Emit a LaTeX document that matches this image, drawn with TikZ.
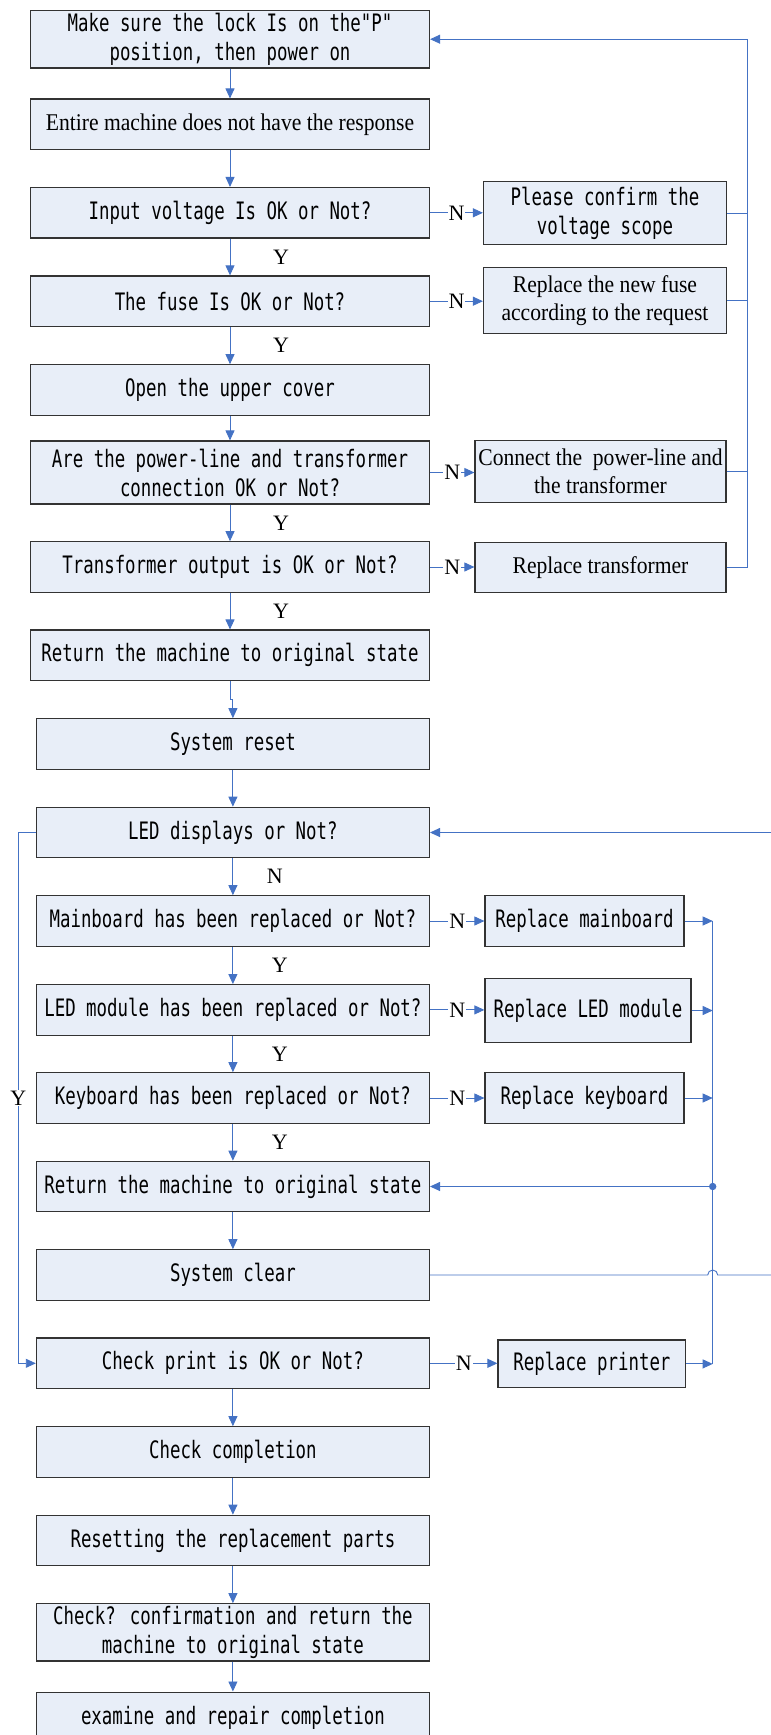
\documentclass[tikz,border=0pt]{standalone}
\usepackage{fontspec}
\usetikzlibrary{arrows.meta}
\newfontfamily\boxfont[FakeStretch=0.725]{DejaVu Sans Mono}
\newfontfamily\serfont[FakeStretch=0.9]{Liberation Serif}
\newfontfamily\labfont{Liberation Serif}
\definecolor{boxfill}{RGB}{232,238,248}
\definecolor{linkblue}{RGB}{68,114,196}
\newcommand{\boxtxt}{\boxfont\fontsize{24}{29}\selectfont}
\newcommand{\romtxt}{\serfont\fontsize{24}{28}\selectfont}
\newcommand{\labtxt}{\labfont\fontsize{22}{26}\selectfont}

\begin{document}
\begin{tikzpicture}[x=1pt,y=-1pt,
    box/.style={draw=black!80, line width=1.2pt, fill=boxfill, minimum height=50.5pt, inner sep=0pt, align=center, font=\boxtxt},
    upper/.style={box, minimum width=399pt},
    lower/.style={box, minimum width=393pt},
    link/.style={draw=linkblue, line width=0.9pt},
    arr/.style={link, -{Triangle[length=10pt,width=9pt]}},
    lbl/.style={font=\labtxt, inner sep=1pt},
    nlbl/.style={lbl, fill=white}]
  \useasboundingbox (0,0) rectangle (771,1735);

  \node[upper, minimum height=57.7pt] (b1) at (230,39.2) {Make sure the lock Is on the"P"\\position, then power on};
  \node[upper, font=\romtxt] (b2) at (230,124.3) {Entire machine does not have the response};
  \node[upper] (b3) at (230,212.8) {Input voltage Is OK or Not?};
  \node[box, minimum width=243pt, minimum height=62.6pt] (s3) at (605,213) {Please confirm the\\voltage scope};
  \node[upper] (b4) at (230,301.2) {The fuse Is OK or Not?};
  \node[box, minimum width=243pt, minimum height=66pt, font=\romtxt] (s4) at (605,300.7) {Replace the new fuse\\according to the request};
  \node[upper] (b5) at (230,390) {Open the upper cover};
  \node[upper, minimum height=63pt] (b6) at (230,472.5) {Are the power-line and transformer\\connection OK or Not?};
  \node[box, minimum width=251pt, minimum height=61.6pt, font=\romtxt] (s6) at (600.5,471.5) {Connect the\ \ power-line and\\the transformer};
  \node[upper] (b7) at (230,567) {Transformer output is OK or Not?};
  \node[box, minimum width=251pt, font=\romtxt] (s7) at (600.5,567.5) {Replace transformer};
  \node[upper] (b8) at (230,655.3) {Return the machine to original state};

  \node[lower] (b9) at (232.9,744) {System reset};
  \node[lower] (b10) at (232.9,832.5) {LED displays or Not?};
  \node[lower] (b11) at (232.9,921) {Mainboard has been replaced or Not?};
  \node[box, minimum width=199pt] (s11) at (584.5,921) {Replace mainboard};
  \node[lower] (b12) at (232.9,1009.9) {LED module has been replaced or Not?};
  \node[box, minimum width=206pt, minimum height=63.6pt] (s12) at (588,1010.5) {Replace LED module};
  \node[lower] (b13) at (232.9,1098) {Keyboard has been replaced or Not?};
  \node[box, minimum width=199pt] (s13) at (584.5,1098) {Replace keyboard};
  \node[lower] (b14) at (232.9,1186.5) {Return the machine to original state};
  \node[lower] (b15) at (232.9,1275) {System clear};
  \node[lower] (b16) at (232.9,1363.3) {Check print is OK or Not?};
  \node[box, minimum width=187.7pt, minimum height=47.7pt] (s16) at (591.9,1363.9) {Replace printer};
  \node[lower] (b17) at (232.9,1452) {Check completion};
  \node[lower] (b18) at (232.9,1540.5) {Resetting the replacement parts};
  \node[lower, minimum height=57.3pt] (b19) at (232.9,1632.4) {Check? confirmation and return the\\machine to original state};
  \node[lower, minimum height=51pt] (b20) at (232.9,1717.6) {examine and repair completion};

  \coordinate (rt) at (747.7,0);
  \coordinate (rb) at (712.7,0);
  \coordinate (lf) at (18.2,0);
  \coordinate (far) at (778,0);

  \draw[arr] (b1) -- (b2);
  \draw[arr] (b2) -- (b3);
  \draw[arr] (b3) -- node[lbl, xshift=51pt] (y3) {Y} (b4);
  \draw[arr] (b4) -- node[lbl, xshift=51pt] (y4) {Y} (b5);
  \draw[arr] (b5) -- (b6);
  \draw[arr] (b6) -- node[lbl, xshift=51pt] (y6) {Y} (b7);
  \draw[arr] (b7) -- node[lbl, xshift=51pt] (y7) {Y} (b8);
  \draw[arr] (b8.south) -- ++(0,18) -| (b9.north);
  \draw[arr] (b9) -- (b10);
  \draw[arr] (b10) -- node[lbl, xshift=42pt] (n10) {N} (b11);
  \draw[arr] (b11) -- node[lbl, xshift=47pt] (y11) {Y} (b12);
  \draw[arr] (b12) -- node[lbl, xshift=47pt] (y12) {Y} (b13);
  \draw[arr] (b13) -- node[lbl, xshift=47pt] (y13) {Y} (b14);
  \draw[arr] (b14) -- (b15);
  \draw[arr] (b16) -- (b17);
  \draw[arr] (b17) -- (b18);
  \draw[arr] (b18) -- (b19);
  \draw[arr] (b19) -- (b20);

  \draw[arr] (b3.east) -- node[nlbl] (n3) {N} (b3.east -| s3.west);
  \draw[arr] (b4.east) -- node[nlbl] (n4) {N} (b4.east -| s4.west);
  \draw[arr] (b6.east) -- node[nlbl] (n6) {N} (b6.east -| s6.west);
  \draw[arr] (b7.east) -- node[nlbl] (n7) {N} (b7.east -| s7.west);
  \draw[arr] (b11.east) -- node[nlbl] (n11) {N} (b11.east -| s11.west);
  \draw[arr] (b12.east) -- node[nlbl] (n12) {N} (b12.east -| s12.west);
  \draw[arr] (b13.east) -- node[nlbl] (n13) {N} (b13.east -| s13.west);
  \draw[arr] (b16.east) -- node[nlbl] (n16) {N} (b16.east -| s16.west);

  \draw[link] (s3.east) -- (s3.east -| rt);
  \draw[link] (s4.east) -- (s4.east -| rt);
  \draw[link] (s6.east) -- (s6.east -| rt);
  \draw[arr] (s7.east) -- (s7.east -| rt) -- (rt |- b1.east) -- (b1.east);

  \draw[arr] (s11.east) -- (s11.east -| rb);
  \draw[arr] (s12.east) -- (s12.east -| rb);
  \draw[arr] (s13.east) -- (s13.east -| rb);
  \draw[arr] (s16.east) -- (s16.east -| rb);
  \draw[link] (s11.east -| rb) -- (s16.east -| rb);
  \fill[linkblue] (rb |- b14.east) circle (3.7pt);
  \draw[arr] (rb |- b14.east) -- (b14.east);

  \draw[arr] (b15.east) -- ([xshift=-5pt]rb |- b15.east) arc (180:360:5) -- (far |- b15.east) -- (far |- b10.east) -- (b10.east);
  \draw[arr] (b10.west) -- (lf |- b10.west) -- node[nlbl] (y10) {Y} (lf |- b16.west) -- (b16.west);
\end{tikzpicture}
\end{document}
